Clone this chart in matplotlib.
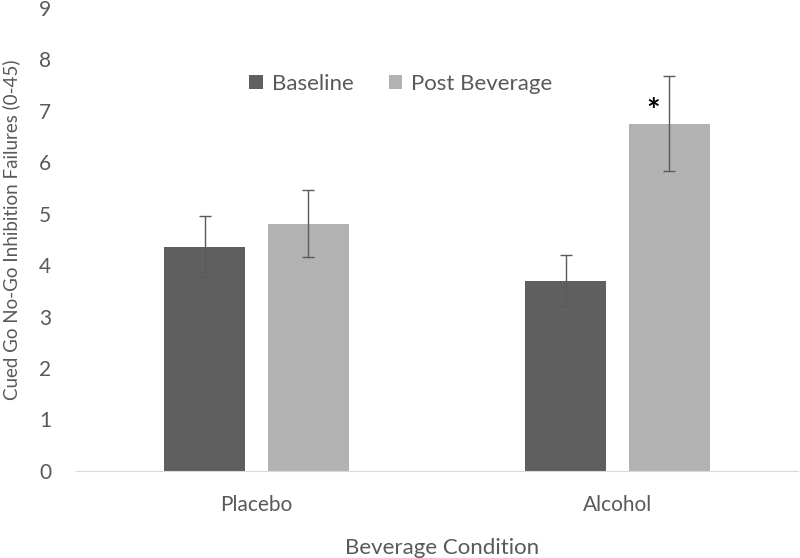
import matplotlib.pyplot as plt
import numpy as np

categories = ['Placebo', 'Alcohol']
series = ['Baseline', 'Post Beverage']
baseline = [4.36, 3.70]
baseline_err = [0.59, 0.49]
post = [4.80, 6.75]
post_err = [0.65, 0.93]
colors = ['#5f5f5f', '#b2b2b2']

plt.rcParams['font.family'] = ['Lato', 'DejaVu Sans']
txt = '#595959'

fig = plt.figure(figsize=(8, 5.58), dpi=100)
ax = fig.add_axes([0.095, 0.156, 0.9025, 0.83])

x = np.arange(len(categories))
w = 0.225
off = 0.144
ax.bar(x - off, baseline, w, color=colors[0], label=series[0])
ax.bar(x + off, post, w, color=colors[1], label=series[1])
ax.errorbar(x - off, baseline, yerr=baseline_err, fmt='none', ecolor='#5a5a5a',
            elinewidth=1, capsize=4, capthick=1)
ax.errorbar(x + off, post, yerr=post_err, fmt='none', ecolor='#5a5a5a',
            elinewidth=1, capsize=4, capthick=1)

# significance marker
ax.text(x[1] + off - 0.045, post[1] + 0.22, '*', ha='center', va='center',
        fontsize=23, fontweight='bold', color='black')

ax.set_xlim(-0.5, 1.5)
ax.set_ylim(0, 9)
ax.set_yticks(range(10))
ax.set_xticks(x)
ax.set_xticklabels(categories)
ax.tick_params(length=0, labelsize=15, colors=txt)
ax.tick_params(axis='x', pad=17)
ax.tick_params(axis='y', pad=18)
for s in ['top', 'right', 'left']:
    ax.spines[s].set_visible(False)
ax.spines['bottom'].set_color('#d9d9d9')

ax.set_ylabel('Cued Go No-Go Inhibition Failures (0-45)', fontsize=13.5, color=txt)
ax.yaxis.set_label_coords(-0.078, 0.52)
ax.set_xlabel('Beverage Condition', fontsize=16, color=txt)
ax.xaxis.set_label_coords(0.507, -0.145)

ax.legend(loc='center', bbox_to_anchor=(0.45, 0.835), ncol=2, frameon=False,
          fontsize=16, labelcolor=txt, handlelength=0.6, handleheight=0.6,
          columnspacing=1.6, handletextpad=0.4)

fig.savefig('out.png')
